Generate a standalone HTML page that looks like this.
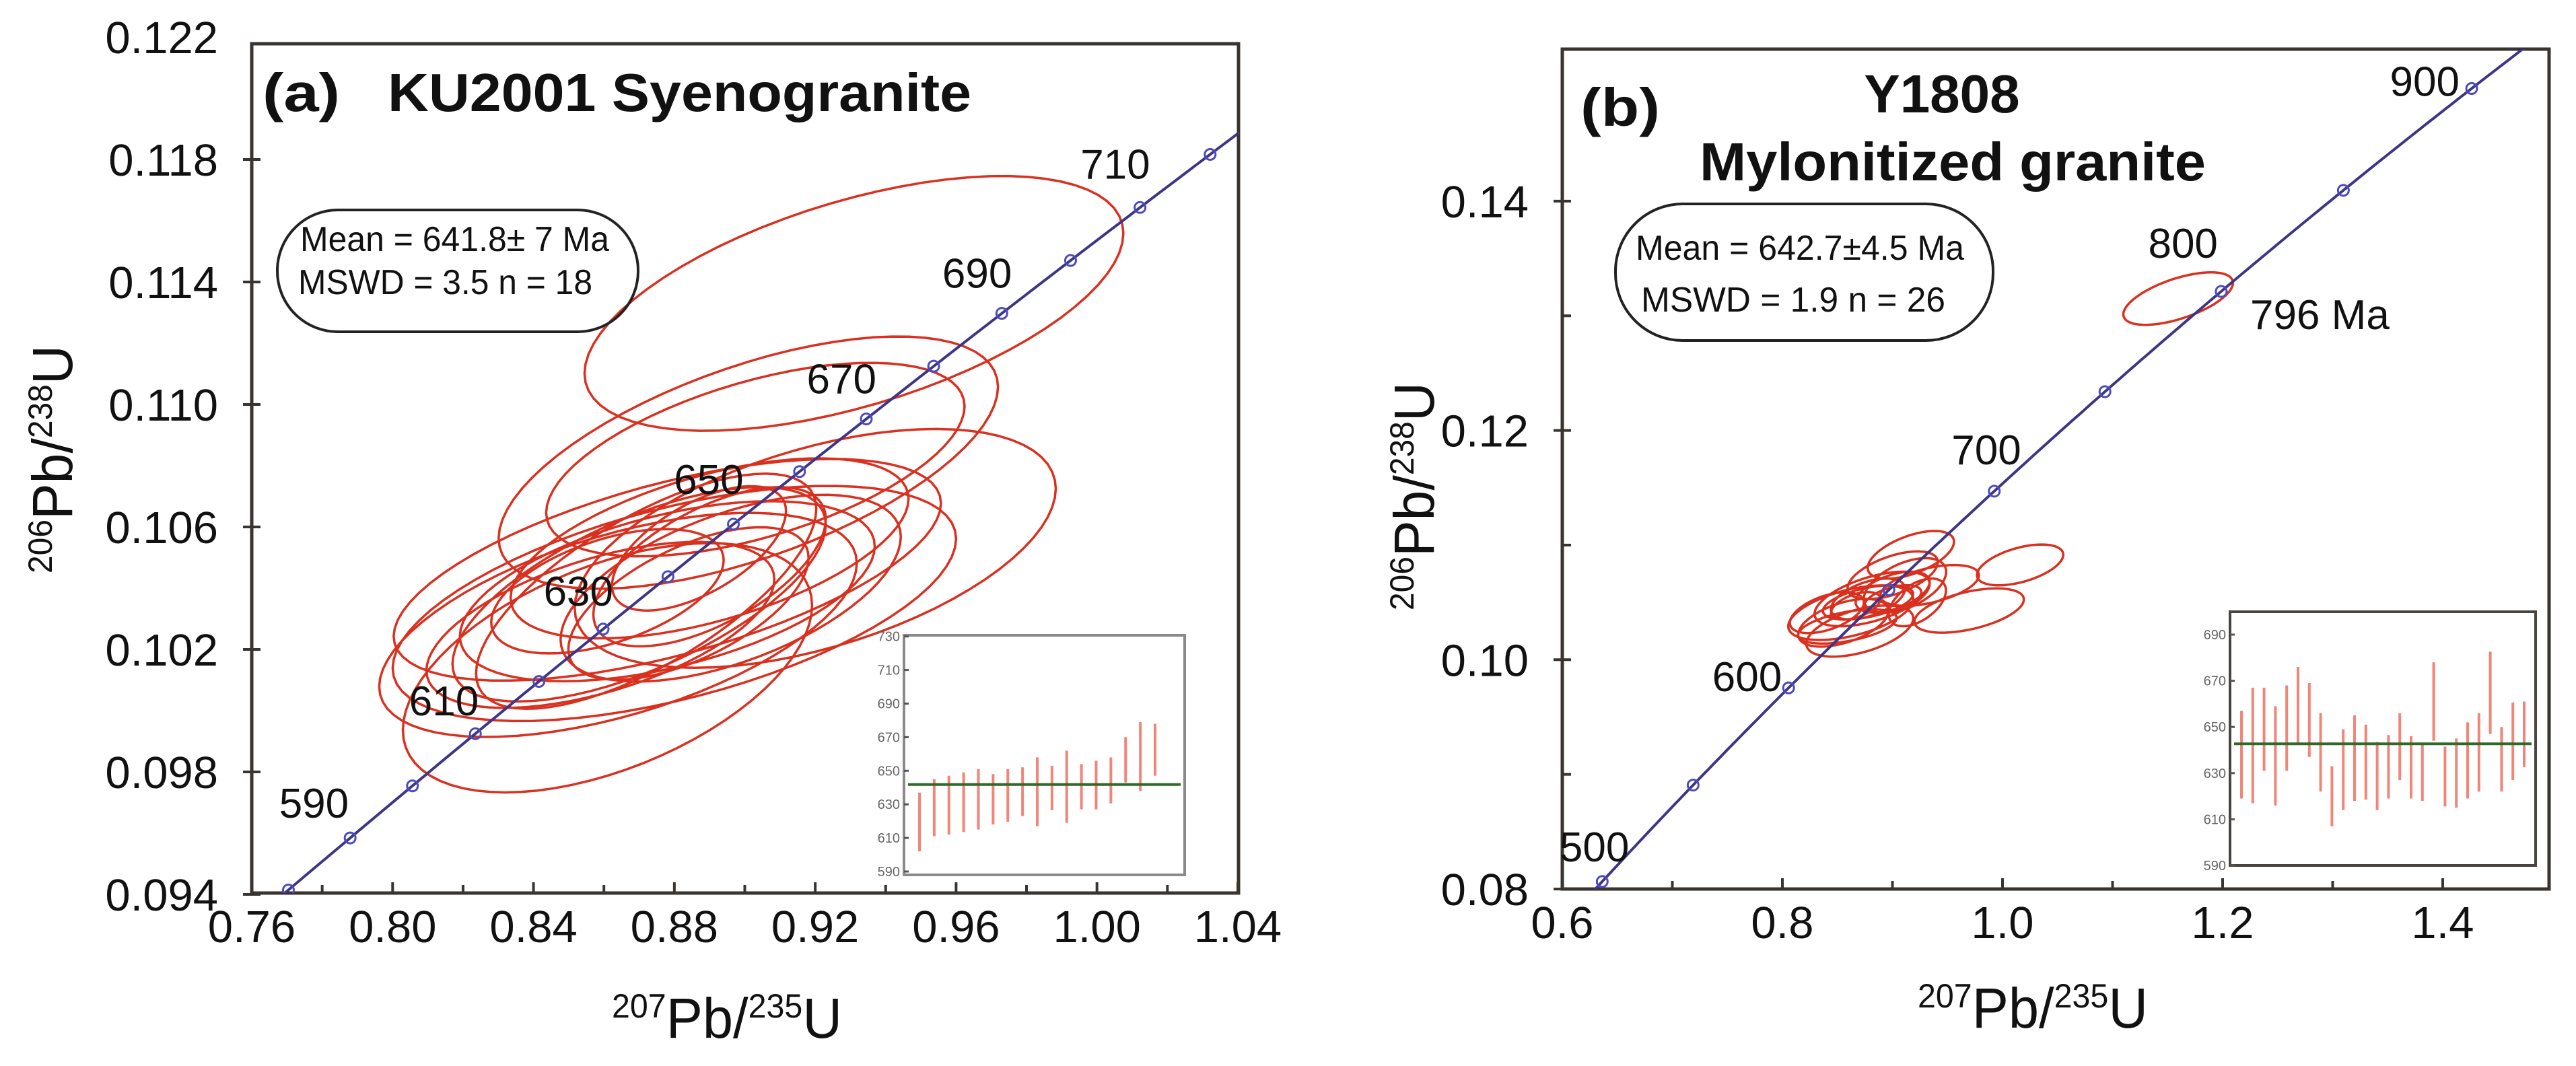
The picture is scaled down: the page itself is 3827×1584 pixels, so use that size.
<!DOCTYPE html>
<html><head><meta charset="utf-8"><style>
html,body{margin:0;padding:0;background:#fff;}
svg{display:block;font-family:"Liberation Sans",Arial,sans-serif;}
</style></head><body>
<svg id="chart" width="3827" height="1584" viewBox="0 0 3827 1584" xmlns="http://www.w3.org/2000/svg">
<defs>
<clipPath id="clipA"><rect x="374" y="65" width="1466" height="1262"/></clipPath>
<clipPath id="clipB"><rect x="2321" y="73" width="1466" height="1248"/></clipPath>
</defs>
<g id="panelA"></g>
<g id="panelB"></g>
</svg>
<script>
const ellA_cx = [0.931,0.901,0.903,0.920,0.878,0.880,0.864,0.861,0.870,0.878,0.896,0.884,0.890,0.887,0.861,0.872,0.859,0.890];
const ellA_cy = [0.1133,0.1081,0.1082,0.1053,0.1046,0.1035,0.1028,0.1014,0.1038,0.1039,0.1040,0.1035,0.1047,0.1053,0.1039,0.1039,0.1028,0.1053];
const ellA_a  = [0.0765,0.0709,0.0594,0.0683,0.0777,0.080,0.0678,0.0581,0.053,0.0589,0.0483,0.0341,0.033,0.0247,0.033,0.0483,0.0494,0.0565];
const ellA_b  = [0.00416,0.00412,0.00316,0.0039,0.00362,0.00384,0.00366,0.00407,0.0035,0.00294,0.00305,0.00249,0.0026,0.00203,0.00203,0.00384,0.00271,0.00294];
const ellA_rho= [0.55,0.6,0.55,0.5,0.6,0.55,0.55,0.5,0.65,0.5,0.55,0.6,0.6,0.6,0.5,0.7,0.55,0.55];
const ageTicksA = [580,590,600,610,620,630,640,650,660,670,680,690,700,710,720];
const ageLabelsA = [590,610,630,650,670,690,710];
const xTicksA = [0.76,0.80,0.84,0.88,0.92,0.96,1.00,1.04];
const yTicksA = [0.094,0.098,0.102,0.106,0.110,0.114,0.118,0.122];
const barLoA = [602,611,612,613.5,615,618,619.6,623,617,626.5,619,627,627,630.6,643,638,647];
const barHiA = [637,645,647,649,651,648,651,652,658,653,662,654,656,658,670,679,678];
const meanA = 641.8;
const insetTicksA = [590,610,630,650,670,690,710,730];

const ellB_cx = [1.1596,1.016,0.9697,0.9167,0.8621,0.8703,0.8815,0.9114,0.8404,0.8778,0.9338,0.8554,0.9002,0.8778,0.9002,0.859,0.9002,0.8666,0.9226];
const ellB_cy = [0.1315,0.10827,0.10429,0.10915,0.1041,0.1025,0.1053,0.10648,0.1041,0.1053,0.10648,0.10322,0.10737,0.105,0.1059,0.1029,0.1053,0.1047,0.105];
const ellB_a  = [0.0498,0.0392,0.0497,0.0392,0.0568,0.0486,0.0523,0.0374,0.0336,0.0336,0.0448,0.041,0.041,0.041,0.0336,0.0448,0.026,0.0224,0.026];
const ellB_b  = [0.00229,0.00178,0.00193,0.00208,0.00238,0.00223,0.00238,0.00238,0.00178,0.00178,0.00178,0.00208,0.00208,0.00149,0.00178,0.00149,0.0012,0.0012,0.00208];
const ellB_rho= [0.6,0.5,0.5,0.55,0.5,0.5,0.55,0.5,0.5,0.5,0.5,0.5,0.55,0.5,0.5,0.5,0.5,0.5,0.5];
const ageTicksB = [500,550,600,650,700,750,800,850,900,950];
const ageLabelsB = [500,600,700,800,900];
const xTicksB = [0.6,0.8,1.0,1.2,1.4];
const yTicksB = [0.08,0.10,0.12,0.14];
const barLoB = [619,617,631,616,631,643,637,622,607,614,618,618.5,614,619,627,619,618,644,615.6,615,619,622,647,622,627,632.6];
const barHiB = [657,667,667,659,668,676,669,656,633,649,655,651,643.5,646.5,656,646,643,678,641.5,645,652,656,682.6,650,660.6,661];
const meanB = 642.7;
const insetTicksB = [590,610,630,650,670,690];

const NS='http://www.w3.org/2000/svg';
function mk(tag, attrs, parent){const e=document.createElementNS(NS,tag);for(const k in attrs)e.setAttribute(k,attrs[k]);parent.appendChild(e);return e;}
const L238=1.55125e-10, L235=9.8485e-10;
function conc(t){return [Math.exp(L235*t*1e6)-1, Math.exp(L238*t*1e6)-1];}
function ellipsePath(sx,sy,cx,cy,a,b,rho){
  let d='';const r2=Math.sqrt(1-rho*rho);
  for(let i=0;i<=72;i++){const t=i/72*2*Math.PI;
    const x=cx+a*Math.cos(t), y=cy+b*(rho*Math.cos(t)+r2*Math.sin(t));
    d+=(i?'L':'M')+sx(x).toFixed(1)+' '+sy(y).toFixed(1);}
  return d+'Z';
}

function panel(g, o){
  const sx=v=>o.x0+(v-o.xv0)*o.kx, sy=v=>o.y0-(v-o.yv0)*o.ky;
  const box=mk('rect',{x:o.L,y:o.T,width:o.R-o.L,height:o.B-o.T,fill:'none',stroke:'#3a3430','stroke-width':5},g);
  
  
  o.xTicks.forEach((v,i)=>{
    const x=sx(v);
    const t=mk('line',{x1:x,x2:x,y1:o.B,y2:o.B-16,stroke:'#3a3430','stroke-width':4},g);
    
    
    if(i<o.xTicks.length-1){const xm=sx(v+o.xMinor);
      const m=mk('line',{x1:xm,x2:xm,y1:o.B,y2:o.B-12,stroke:'#3a3430','stroke-width':4},g);
      
      }
    const lb=mk('text',{x:x,y:o.B+73,'font-size':67,'text-anchor':'middle',fill:'#111'},g);
    lb.textContent=o.xFmt(v);
    
    
  });
  o.yTicks.forEach((v,i)=>{
    const y=sy(v);
    if(y>=o.T-1){
      const t=mk('line',{x1:o.L-13,x2:o.L+13,y1:y,y2:y,stroke:'#3a3430','stroke-width':4},g);
      
      
    }
    if(o.yMinor && i<o.yTicks.length-1){const ym=sy(v+o.yMinor);
      const m=mk('line',{x1:o.L,x2:o.L+13,y1:ym,y2:ym,stroke:'#3a3430','stroke-width':4},g);
      
      }
    const lb=mk('text',{x:o.L-50,y:y+24,'font-size':67,'text-anchor':'end',fill:'#111'},g);
    lb.textContent=o.yFmt(v);
    
    
  });
  const cg=mk('g',{'clip-path':'url(#'+o.clip+')'},g);
  o.ecx.forEach((c,i)=>{
    const p=mk('path',{d:ellipsePath(sx,sy,c,o.ecy[i],o.ea[i],o.eb[i],o.er[i]),fill:'none',stroke:'#d9301f','stroke-width':3.5},cg);
    
    
  });
  let d='';for(let t=o.t0;t<=o.t1;t+=2){const c=conc(t);d+=(d?'L':'M')+sx(c[0]).toFixed(1)+' '+sy(c[1]).toFixed(1);}
  const cl=mk('path',{d:d,fill:'none',stroke:'#3d3585','stroke-width':4},cg);
  
  
  o.ages.forEach(t=>{const c=conc(t);
    const m=mk('circle',{cx:sx(c[0]),cy:sy(c[1]),r:o.mr,fill:'none',stroke:'#4b4bc0','stroke-width':3},cg);
    
    });
  o.ageLabels.forEach((t,i)=>{const c=conc(t);
    const lb=mk('text',{x:sx(c[0])+o.lblDx[i],y:sy(c[1])+o.lblDy[i],'font-size':o.lblFs,fill:'#111','text-anchor':'end'},g);
    lb.textContent=t;
    
    });
  const ig=mk('g',{},g);
  
  
  const I=o.inset;
  const iy=v=>I.yb-(v-I.v0)*I.k;
  mk('rect',{x:I.L,y:I.T,width:I.R-I.L,height:I.B-I.T,fill:'#fff',stroke:I.frame,'stroke-width':4},ig);
  I.ticks.forEach(v=>{const y=iy(v);
    mk('line',{x1:I.L,x2:I.L+7,y1:y,y2:y,stroke:'#555','stroke-width':3},ig);
    const lb=mk('text',{x:I.L-6,y:y+7,'font-size':20,'text-anchor':'end',fill:'#666'},ig);
    lb.textContent=v;
    
    });
  const n=I.lo.length;
  I.lo.forEach((lo,i)=>{const x=I.x0+(I.x1-I.x0)*i/(n-1);
    const b=mk('line',{x1:x,x2:x,y1:iy(lo),y2:iy(I.hi[i]),stroke:'#ee7060','stroke-width':4,'stroke-opacity':0.85},ig);
    
    });
  const ml=mk('line',{x1:I.L+6,x2:I.R-6,y1:iy(I.mean),y2:iy(I.mean),stroke:'#2e6a2a','stroke-width':4},ig);
  
  
}

const gA=document.getElementById('panelA'), gB=document.getElementById('panelB');
panel(gA,{L:374,R:1840,T:65,B:1327,x0:374,xv0:0.76,kx:5232,y0:1329,yv0:0.094,ky:45500,
  xTicks:xTicksA,xMinor:0.02,yTicks:yTicksA,yMinor:0,xFmt:v=>v.toFixed(2),yFmt:v=>v.toFixed(3),
  ecx:ellA_cx,ecy:ellA_cy,ea:ellA_a,eb:ellA_b,er:ellA_rho,clip:'clipA',t0:570,t1:740,ages:ageTicksA,mr:8,
  ageLabels:ageLabelsA,lblDx:[-2,5,15,15,15,15,15],lblDy:[-30,-27,-35,-45,-38,-38,-43],lblFs:62,
  inset:{L:1343,R:1760,T:944,B:1300,yb:1295,v0:590,k:2.495,ticks:insetTicksA,lo:barLoA,hi:barHiA,mean:meanA,x0:1366,x1:1716,frame:'#8a8a8a'}});
panel(gB,{L:2321,R:3787,T:73,B:1321,x0:2321,xv0:0.6,kx:1635,y0:1321,yv0:0.08,ky:17035,
  xTicks:xTicksB,xMinor:0.1,yTicks:yTicksB,yMinor:0.01,xFmt:v=>v.toFixed(1),yFmt:v=>v.toFixed(2),
  ecx:ellB_cx,ecy:ellB_cy,ea:ellB_a,eb:ellB_b,er:ellB_rho,clip:'clipB',t0:480,t1:960,ages:ageTicksB,mr:8,
  ageLabels:ageLabelsB,lblDx:[40,-10,40,-5,-18],lblDy:[-30,5,-40,-50,11],lblFs:62,
  inset:{L:3313,R:3767,T:909,B:1286,yb:1286,v0:590,k:3.43,ticks:insetTicksB,lo:barLoB,hi:barHiB,mean:meanB,x0:3330,x1:3750,frame:'#4a4440'}});
</script>
<svg style="position:absolute;left:0;top:0" width="3827" height="1584">
<g font-family="Liberation Sans, Arial, sans-serif" fill="#111">
<text x="390" y="165" font-size="80" font-weight="bold" textLength="115" lengthAdjust="spacingAndGlyphs">(a)</text>
<text x="576" y="165" font-size="80" font-weight="bold" textLength="867" lengthAdjust="spacingAndGlyphs">KU2001  Syenogranite</text>
<rect x="412" y="312" width="536" height="181" rx="90" ry="90" fill="none" stroke="#222" stroke-width="4"/>
<text x="446" y="373" font-size="52" textLength="459" lengthAdjust="spacingAndGlyphs">Mean = 641.8± 7 Ma</text>
<text x="443" y="437" font-size="52" textLength="437" lengthAdjust="spacingAndGlyphs">MSWD = 3.5 n = 18</text>
<text transform="translate(107,852) rotate(-90)" font-size="84" textLength="339" lengthAdjust="spacingAndGlyphs"><tspan font-size="50" dy="-30">206</tspan><tspan dy="30">Pb/</tspan><tspan font-size="50" dy="-30">238</tspan><tspan dy="30">U</tspan></text>
<text x="909" y="1542" font-size="84" textLength="342" lengthAdjust="spacingAndGlyphs"><tspan font-size="50" dy="-30">207</tspan><tspan dy="30">Pb/</tspan><tspan font-size="50" dy="-30">235</tspan><tspan dy="30">U</tspan></text>

<text x="2348" y="187" font-size="80" font-weight="bold" textLength="118" lengthAdjust="spacingAndGlyphs">(b)</text>
<text x="2885" y="167" font-size="80" font-weight="bold" text-anchor="middle">Y1808</text>
<text x="2901" y="268" font-size="80" font-weight="bold" text-anchor="middle" textLength="752" lengthAdjust="spacingAndGlyphs">Mylonitized granite</text>
<rect x="2400" y="303" width="561" height="203" rx="100" ry="100" fill="none" stroke="#222" stroke-width="4"/>
<text x="2430" y="386" font-size="52" textLength="488" lengthAdjust="spacingAndGlyphs">Mean = 642.7±4.5 Ma</text>
<text x="2438" y="463" font-size="52" textLength="452" lengthAdjust="spacingAndGlyphs">MSWD = 1.9  n = 26</text>
<text x="3343" y="489" font-size="62">796 Ma</text>
<text transform="translate(2130,907) rotate(-90)" font-size="84" textLength="339" lengthAdjust="spacingAndGlyphs"><tspan font-size="50" dy="-30">206</tspan><tspan dy="30">Pb/</tspan><tspan font-size="50" dy="-30">238</tspan><tspan dy="30">U</tspan></text>
<text x="2849" y="1527" font-size="84" textLength="342" lengthAdjust="spacingAndGlyphs"><tspan font-size="50" dy="-30">207</tspan><tspan dy="30">Pb/</tspan><tspan font-size="50" dy="-30">235</tspan><tspan dy="30">U</tspan></text>
</g>
</svg>
</body></html>
